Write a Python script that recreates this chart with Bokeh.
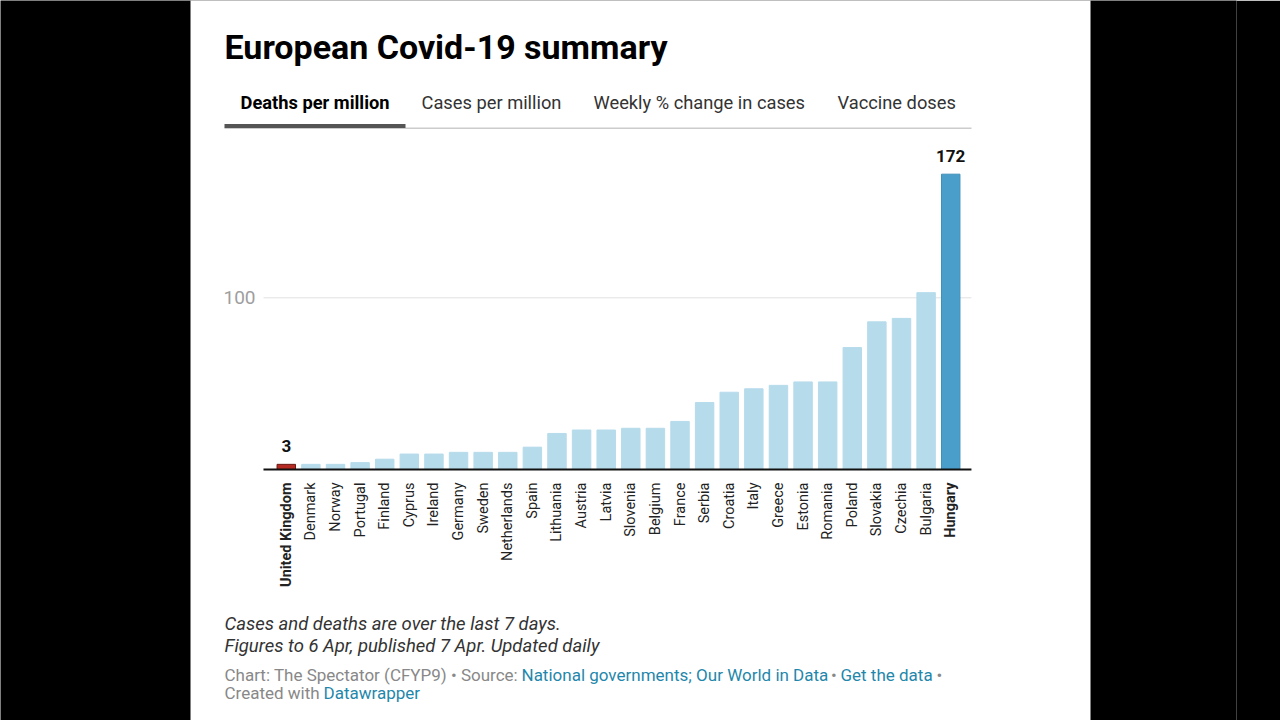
import math
from bokeh.plotting import figure
from bokeh.models import ColumnDataSource, FactorRange, Range1d, Label, BoxAnnotation
from bokeh.embed import file_html
from bokeh.resources import INLINE
from bokeh.core.properties import value

# ---------------- data ----------------
countries = ["United Kingdom", "Denmark", "Norway", "Portugal", "Finland", "Cyprus",
             "Ireland", "Germany", "Sweden", "Netherlands", "Spain", "Lithuania",
             "Austria", "Latvia", "Slovenia", "Belgium", "France", "Serbia",
             "Croatia", "Italy", "Greece", "Estonia", "Romania", "Poland",
             "Slovakia", "Czechia", "Bulgaria", "Hungary"]
deaths_per_million = [3, 3, 3, 4, 6, 9, 9, 10, 10, 10, 13, 21, 23, 23, 24, 24, 28, 39,
                      45, 47, 49, 51, 51, 71, 86, 88, 103, 172]
highlighted = ["United Kingdom", "Hungary"]
y_ticks = [100]

title_text = "European Covid-19 summary"
tabs = ["Deaths per million", "Cases per million", "Weekly % change in cases", "Vaccine doses"]
notes = ["Cases and deaths are over the last 7 days.",
         "Figures to 6 Apr, published 7 Apr. Updated daily"]

# ---------------- styles / layout constants ----------------
FONT = "Roboto"
LIGHT = "#b6dbeb"
UK_RED = "#b52a22"
HU_BLUE = "#4a9fca"
W, H = 1280, 720
STEP = 24.61          # px per category
PAD = 11.113          # category padding on each side (synthetic units)
RIGHT_BORDER = 44
BASE_PX = 469.0       # page y of the zero line
PX_PER_UNIT = 1.717

def synth(page_x):
    """page x pixel -> synthetic categorical coordinate"""
    return page_x / STEP - PAD

def bar_fill(c):
    if c == "United Kingdom":
        return UK_RED
    if c == "Hungary":
        return HU_BLUE
    return LIGHT

def bar_line(c):
    if c == "United Kingdom":
        return "#6a1611"
    if c == "Hungary":
        return "#3f8fba"
    return LIGHT

src = ColumnDataSource(dict(
    country=countries,
    value=deaths_per_million,
    fill=[bar_fill(c) for c in countries],
    line=[bar_line(c) for c in countries],
    style=["bold" if c in highlighted else "normal" for c in countries],
))

hl_idx = [i for i, c in enumerate(countries) if c in highlighted]
hl_src = ColumnDataSource(dict(
    country=[countries[i] for i in hl_idx],
    value=[deaths_per_million[i] for i in hl_idx],
    label=[str(deaths_per_million[i]) for i in hl_idx],
))

p = figure(width=W, height=H, output_backend="svg", toolbar_location=None,
           x_range=FactorRange(factors=countries, range_padding=PAD,
                               range_padding_units="absolute"),
           y_range=Range1d(-(H - BASE_PX) / PX_PER_UNIT, BASE_PX / PX_PER_UNIT),
           x_axis_location=None, y_axis_location=None,
           min_border_left=0, min_border_top=0, min_border_bottom=0,
           min_border_right=RIGHT_BORDER)
p.outline_line_color = None
p.background_fill_color = "black"
p.border_fill_color = "black"
p.grid.visible = False

# white page panel between the black side bars
p.add_layout(BoxAnnotation(left=190, right=1090, top=H + 5, bottom=-5,
                           left_units="screen", right_units="screen",
                           top_units="screen", bottom_units="screen",
                           fill_color="white", fill_alpha=1, line_color=None,
                           level="underlay"))

# gridline at the y ticks and the zero baseline
gx0, gx1 = synth(263), synth(971)
p.segment(x0=[gx0] * len(y_ticks), x1=[gx1] * len(y_ticks), y0=y_ticks, y1=y_ticks,
          line_color="#e2e2e2", line_width=1)
for t in y_ticks:
    p.add_layout(Label(x=255, y=t, x_units="screen", y_units="data", text=str(t),
                       text_font=FONT, text_font_size="19px", text_color="#9e9e9e",
                       text_align="right", text_baseline="middle"))

p.vbar(x="country", top="value", width=0.75, source=src,
       fill_color="fill", line_color="line", line_width=1)

p.segment(x0=[gx0], x1=[gx1], y0=[0], y1=[0], line_color="#111111", line_width=2)

# value labels for highlighted bars
p.text(x="country", y="value", text="label", source=hl_src,
       text_align="center", text_baseline="alphabetic", y_offset=-18,
       text_font=value(FONT), text_font_style="bold", text_font_size="17px",
       text_color="#111111")

# category labels (rotated)
p.text(x="country", y=0, text="country", source=src, angle=math.pi / 2,
       text_align="right", text_baseline="middle", y_offset=13,
       text_font=value(FONT), text_font_style="style", text_font_size="14.5px",
       text_color="#222222")

# ---------------- texts (screen units: x from left, y from bottom) ----------------
def lab(text, px, baseline_py, size, color="#333333", style="normal"):
    y = H - (baseline_py - 0.39 * size)
    p.add_layout(Label(x=px, y=y, x_units="screen", y_units="screen",
                       text=text, text_font=FONT, text_font_size=f"{size}px",
                       text_font_style=style, text_color=color,
                       text_baseline="alphabetic", text_align="left"))

lab(title_text, 224, 60, 34, color="#000000", style="bold")

tab_x = [240, 421, 593, 837]
for i, (t, x) in enumerate(zip(tabs, tab_x)):
    lab(t, x, 109.5, 18.3, color="#000000" if i == 0 else "#333333",
        style="bold" if i == 0 else "normal")

def hbar(x0, x1, y_top, y_bot, color):
    p.add_layout(BoxAnnotation(left=x0, right=x1, top=H - y_top, bottom=H - y_bot,
                               left_units="screen", right_units="screen",
                               top_units="screen", bottom_units="screen",
                               fill_color=color, fill_alpha=1, line_color=None))

hbar(224, 971, 127, 128.5, "#cccccc")
hbar(224, 405, 123.5, 127.5, "#555555")

lab(notes[0], 224, 630.7, 18.5, color="#333333", style="italic")
lab(notes[1], 224, 653, 18.5, color="#333333", style="italic")

GRAY = "#888888"
LINK = "#1f87ab"
lab("Chart: The Spectator (CFYP9) • Source:", 224, 681.3, 17, color=GRAY)
lab("National governments; Our World in Data", 521, 681.3, 17, color=LINK)
lab("•", 830.5, 681.3, 17, color=GRAY)
lab("Get the data", 840, 681.3, 17, color=LINK)
lab("•", 936, 681.3, 17, color=GRAY)
lab("Created with", 224, 698.7, 17, color=GRAY)
lab("Datawrapper", 323, 698.7, 17, color=LINK)

open("out.html", "w").write(file_html(p, INLINE))
